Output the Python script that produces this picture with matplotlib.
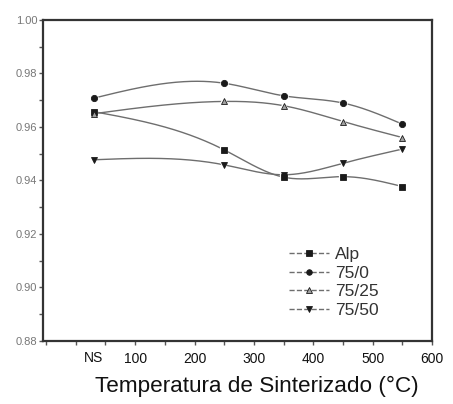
import numpy as np
import matplotlib
matplotlib.use("Agg")
import matplotlib.pyplot as plt
from matplotlib.lines import Line2D
from matplotlib.ticker import MultipleLocator

plt.rcParams['font.family'] = ['Liberation Sans', 'DejaVu Sans']

# sintering temperature, "NS" = not sintered
temps = [30, 250, 350, 450, 550]
alp = [0.9657, 0.9514, 0.9412, 0.9414, 0.9377]
s75_0 = [0.9707, 0.9763, 0.9716, 0.9689, 0.9610]
s75_25 = [0.9649, 0.9695, 0.9679, 0.9620, 0.9560]
s75_50 = [0.9477, 0.9458, 0.9421, 0.9464, 0.9517]

series_names = ['Alp', '75/0', '75/25', '75/50']
tick_vals = [0, 100, 200, 300, 400, 500, 600]
tick_labels = ['', '100', '200', '300', '400', '500', '600']


def natural_spline(x, y, n=200):
    # natural cubic spline through the points, used only to smooth the line
    x = np.asarray(x, float)
    y = np.asarray(y, float)
    k = len(x)
    h = np.diff(x)
    A = np.zeros((k, k))
    b = np.zeros(k)
    A[0, 0] = A[-1, -1] = 1
    for i in range(1, k - 1):
        A[i, i - 1] = h[i - 1]
        A[i, i] = 2 * (h[i - 1] + h[i])
        A[i, i + 1] = h[i]
        b[i] = 6 * ((y[i + 1] - y[i]) / h[i] - (y[i] - y[i - 1]) / h[i - 1])
    m = np.linalg.solve(A, b)
    xs = np.linspace(x[0], x[-1], n)
    idx = np.clip(np.searchsorted(x, xs) - 1, 0, k - 2)
    x0, x1 = x[idx], x[idx + 1]
    hh = x1 - x0
    t0 = x1 - xs
    t1 = xs - x0
    ys = (m[idx] * t0 ** 3 + m[idx + 1] * t1 ** 3) / (6 * hh) \
        + (y[idx] / hh - m[idx] * hh / 6) * t0 \
        + (y[idx + 1] / hh - m[idx + 1] * hh / 6) * t1
    return xs, ys


fig = plt.figure(figsize=(4.53, 4.04), dpi=100)
ax = fig.add_axes([0.095, 0.156, 0.859, 0.795])

line_col = '#6e6e6e'
mk_col = '#1a1a1a'
styles = [
    (alp, 's', mk_col, 4.2),
    (s75_0, 'o', mk_col, 4.5),
    (s75_25, '^', '#a0a0a0', 5),
    (s75_50, 'v', mk_col, 5),
]

handles = []
for (vals, mk, fc, ms), name in zip(styles, series_names):
    xs, ys = natural_spline(temps, vals)
    ax.plot(xs, ys, color=line_col, lw=1.0, zorder=2)
    ax.plot(temps, vals, ls='none', marker=mk, ms=ms, mfc=fc, mec='white',
            mew=1.6, zorder=3)
    ax.plot(temps, vals, ls='none', marker=mk, ms=ms, mfc=fc, mec=mk_col,
            mew=0.6, zorder=4)
    handles.append(Line2D([], [], color=line_col, lw=1.0, ls='--',
                          marker=mk, ms=ms - 0.5, mfc=fc, mec=mk_col, mew=0.6))

ax.set_xlim(-55, 600)
ax.set_ylim(0.88, 1.00)
ax.set_xticks(tick_vals)
ax.set_xticklabels(tick_labels)
ax.xaxis.set_minor_locator(MultipleLocator(50))
ax.yaxis.set_major_locator(MultipleLocator(0.02))
ax.yaxis.set_minor_locator(MultipleLocator(0.01))
ax.yaxis.set_major_formatter(plt.FormatStrFormatter('%.2f'))

ax.text(30, -0.03, 'NS', transform=ax.get_xaxis_transform(), ha='center',
        va='top', fontsize=10, color='#111111')

for s in ax.spines.values():
    s.set_linewidth(1.6)
    s.set_color('#333333')
ax.tick_params(which='both', direction='out', length=3, width=1, color='#555555')
ax.tick_params(axis='x', which='major', pad=5, labelsize=10, labelcolor='#111111')
ax.tick_params(axis='y', which='major', pad=1, labelsize=8, labelcolor='#777777')

ax.set_xlabel('Temperatura de Sinterizado (°C)', fontsize=16.2, color='#111111')
ax.xaxis.set_label_coords(0.55, -0.11)

leg = ax.legend(handles, series_names, loc='lower right',
                bbox_to_anchor=(0.885, 0.045), frameon=False, fontsize=12.5,
                handlelength=2.3, handletextpad=0.35, labelspacing=0.2,
                borderpad=0)
for t in leg.get_texts():
    t.set_color('#333333')

fig.savefig('out.png', dpi=100)
